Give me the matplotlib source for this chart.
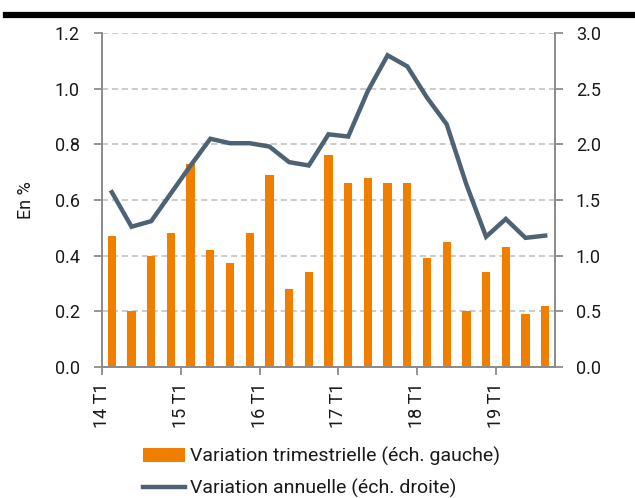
import numpy as np
import matplotlib.pyplot as plt

# quarterly data, 14 T1 .. 19 T3
quarterly = [0.47, 0.20, 0.40, 0.48, 0.73, 0.42, 0.375, 0.48, 0.69, 0.28, 0.34, 0.76,
             0.66, 0.68, 0.66, 0.66, 0.39, 0.45, 0.20, 0.34, 0.43, 0.19, 0.22]
annual = [1.57, 1.26, 1.31, 1.56, 1.81, 2.05, 2.01, 2.01, 1.98, 1.84, 1.81, 2.09,
          2.07, 2.48, 2.80, 2.70, 2.42, 2.18, 1.64, 1.17, 1.33, 1.16, 1.18]
year_labels = ['14 T1', '15 T1', '16 T1', '17 T1', '18 T1', '19 T1']

BAR_COLOR = '#f07f00'
LINE_COLOR = '#4e6275'
GRID_COLOR = '#bdbdbd'
SPINE_COLOR = '#8c8c8c'
TEXT_COLOR = '#1a1a1a'

plt.rcParams['font.family'] = ['Roboto', 'DejaVu Sans']
plt.rcParams['font.size'] = 13

fig = plt.figure(figsize=(6.35, 4.98), dpi=100)
ax = fig.add_axes([102/635, 1 - 367/498, (555-102)/635, (367-33)/498])
ax2 = ax.twinx()

x = np.arange(len(quarterly))
bars = ax.bar(x, quarterly, width=0.42, color=BAR_COLOR, zorder=2,
              label='Variation trimestrielle (éch. gauche)')
line, = ax2.plot(x, annual, color=LINE_COLOR, lw=3.2, solid_joinstyle='miter',
                 label='Variation annuelle (éch. droite)')

ax.set_xlim(-0.5, len(quarterly) - 0.5)
ax.set_ylim(0, 1.2)
ax2.set_ylim(0, 3.0)
ax.set_yticks(np.arange(0, 1.21, 0.2))
ax.set_yticklabels([f'{v:.1f}' for v in np.arange(0, 1.21, 0.2)])
ax2.set_yticks(np.arange(0, 3.01, 0.5))
ax2.set_yticklabels([f'{v:.1f}' for v in np.arange(0, 3.01, 0.5)])

ax.set_xticks(np.arange(len(year_labels)) * 4 - 0.5)
ax.set_xticklabels(year_labels, rotation=90)

ax.grid(axis='y', color=GRID_COLOR, ls=(0, (4, 2.5)), lw=1.1, zorder=0)
ax.set_axisbelow(True)

for a in (ax, ax2):
    for s in a.spines.values():
        s.set_color(SPINE_COLOR)
        s.set_linewidth(1.3)
    a.spines['top'].set_visible(False)
    a.tick_params(colors=SPINE_COLOR, labelcolor=TEXT_COLOR, length=6, width=1.3,
                  labelsize=13)
ax.tick_params(axis='y', pad=10)
ax2.tick_params(axis='y', pad=9)
ax.tick_params(axis='x', pad=5)

ax.set_ylabel('En %', color=TEXT_COLOR, fontsize=13)
ax.yaxis.set_label_coords(-0.148, 0.5)

# thick black band at the top
fig.add_artist(plt.Line2D([6/635, 1], [1 - 15/498, 1 - 15/498], color='black', lw=4.5))

fig.legend(handles=[bars, line], loc='upper left',
           bbox_to_anchor=(143/635, 1 - 447/498), frameon=False,
           borderpad=0, borderaxespad=0, handlelength=2.15, handletextpad=0.25,
           labelspacing=0.65, fontsize=14, labelcolor=TEXT_COLOR)

fig.savefig('out.png', dpi=100)
